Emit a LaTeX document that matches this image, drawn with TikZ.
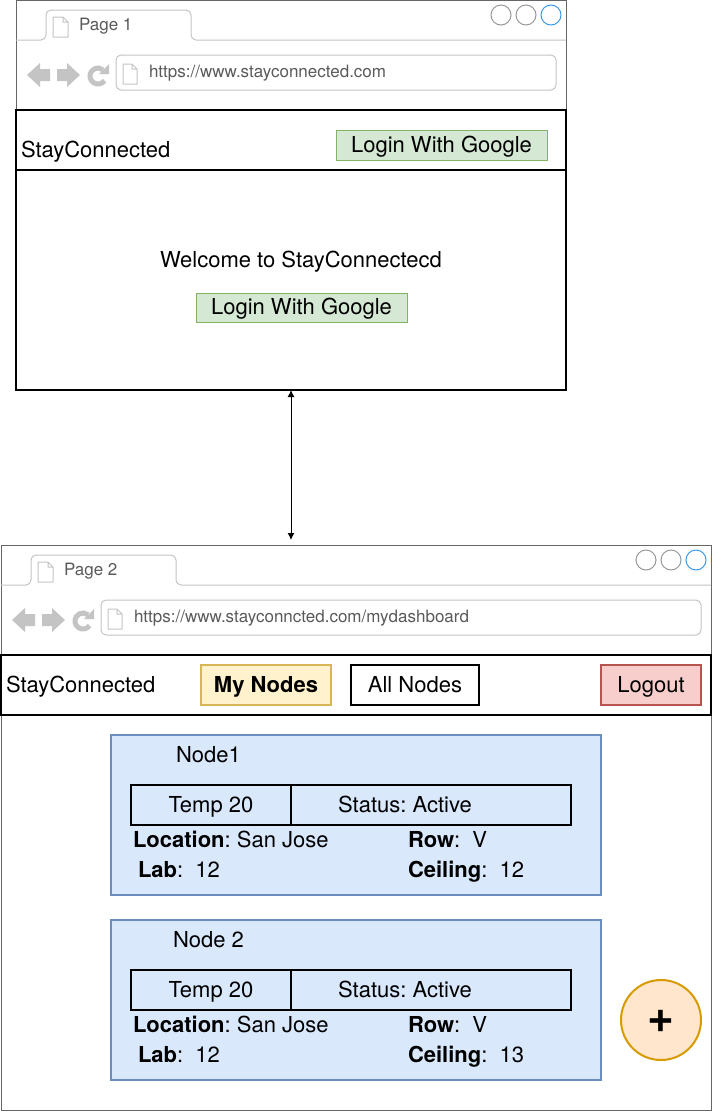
\documentclass[tikz,border=0pt]{standalone}
\usepackage{fontspec}
\setmainfont{TeX Gyre Heros}
\usetikzlibrary{arrows.meta}
\definecolor{greenF}{HTML}{D5E8D4}\definecolor{greenS}{HTML}{82B366}
\definecolor{blueF}{HTML}{DAE8FC}\definecolor{blueS}{HTML}{6C8EBF}
\definecolor{yelF}{HTML}{FFF2CC}\definecolor{yelS}{HTML}{D6B656}
\definecolor{redF}{HTML}{F8CECC}\definecolor{redS}{HTML}{B85450}
\definecolor{orF}{HTML}{FFE6CC}\definecolor{orS}{HTML}{D79B00}
\definecolor{frameC}{HTML}{666666}\definecolor{lineC}{HTML}{C4C4C4}\definecolor{iconC}{HTML}{C4C4C4}
\definecolor{txtC}{HTML}{5A5A5A}\definecolor{winB}{HTML}{3D9BEF}
\newcommand{\bigtxt}{\fontsize{22}{25}\selectfont}
\newcommand{\smalltxt}{\fontsize{17}{20}\selectfont}
\frenchspacing
\tikzset{
 every node/.style={outer sep=0pt},
 cell/.style={inner sep=0pt,anchor=north west,font=\bigtxt,text height=18pt,text depth=4pt},
 box/.style={cell,draw=black,line width=2pt,fill=white},
 thin box/.style={cell,draw=black,line width=2pt},
 txt/.style={inner sep=0pt,font=\bigtxt,text=black},
 btn/.style={cell,draw=greenS,fill=greenF,line width=1pt},
 flat/.style={cell,line width=2pt},
 card/.style={cell,draw=blueS,fill=blueF,line width=2pt},
 winc/.style={circle,minimum size=20pt,inner sep=0pt,line width=1pt,draw=#1},
 ftxt/.style={inner sep=0pt,font=\smalltxt,text=txtC},
 icon/.style={fill=iconC,draw=none},
 pageicon/.style={draw=lineC,fill=white,line width=1pt,line join=round},
}
\newcommand{\browser}[5]{% x0, y0, width, page, url
\begin{scope}[shift={(#1,#2)}]
 \draw[frameC,line width=1pt] (0,110) -- (0,0) -- (#3,0) -- (#3,110);
 \draw[lineC,line width=1pt,rounded corners=5pt] (0,40) -- (30,40) -- (30,10) -- (175,10) -- (175,40) -- (#3,40);
 \draw[pageicon] (37,17) -- (47,17) -- (52,22) -- (52,37) -- (37,37) -- cycle (47,17) -- (47,22) -- (52,22);
 \node[ftxt,anchor=base west] (pagelbl#1) at (63,30) {#4};
 \draw[lineC,line width=1pt,rounded corners=5pt] (100,55) rectangle (#3-10,90);
 \draw[pageicon] (107,64) -- (116,64) -- (121,69) -- (121,84) -- (107,84) -- cycle (116,64) -- (116,69) -- (121,69);
 \node[ftxt,anchor=base west] (urllbl#1) at (133,77) {#5};
 \fill[icon] (11,75) -- (24,63) -- (24,69) -- (34,69) -- (34,81) -- (24,81) -- (24,87) -- cycle;
 \fill[icon] (64,75) -- (51,63) -- (51,69) -- (41,69) -- (41,81) -- (51,81) -- (51,87) -- cycle;
 \draw[iconC,line width=5pt] (82,76) ++(35:8) arc[start angle=35,end angle=310,radius=8];
 \fill[icon] (93,64) -- (93,74) -- (83,74) -- cycle;
 \node[winc=gray!80] (ca#1) at (#3-65,15) {};
 \node[winc=gray!80] (cb#1) at (#3-40,15) {};
 \node[winc=winB] (cc#1) at (#3-15,15) {};
\end{scope}}
\begin{document}
\begin{tikzpicture}[x=1pt,y=-1pt]
\useasboundingbox[fill=white] (0,0) rectangle (712,1112);
% Page 1
\browser{16}{0}{550}{Page 1}{https://www.stayconnected.com}
\node[box,minimum width=550pt,minimum height=60pt] (bar1) at (16,110) {};
\node[box,minimum width=550pt,minimum height=220pt] (main1) at (16,170) {};
\node[txt,anchor=base west] (brand1) at (21,157) {StayConnected};
\node[btn,minimum width=211pt,minimum height=30pt] (login1) at (336,130) {Login With Google};
\node[txt,anchor=base] (welcome) at (301,267) {Welcome to StayConnectecd};
\node[btn,minimum width=211pt,minimum height=29pt] (login2) at (196,293) {Login With Google};
% Page 2
\draw[frameC,line width=1pt] (1,655) -- (1,1110) -- (711,1110) -- (711,655);
\browser{1}{545}{710}{Page 2}{https://www.stayconncted.com/mydashboard}
\coordinate (p2top) at (291,540);
\draw[black,line width=1pt,{Latex[length=7pt,width=7pt]}-{Latex[length=7pt,width=7pt]}] (main1.south -| p2top) -- (p2top);
\node[box,minimum width=710pt,minimum height=60pt] (bar2) at (1,655) {};
\node[txt,anchor=base west] (brand2) at (6,692) {StayConnected};
\node[flat,draw=yelS,fill=yelF,minimum width=130pt,minimum height=40pt,font=\bigtxt\bfseries] (mynodes) at (201,665) {My Nodes};
\node[box,minimum width=128pt,minimum height=40pt] (allnodes) at (351,665) {All Nodes};
\node[flat,draw=redS,fill=redF,minimum width=100pt,minimum height=40pt] (logout) at (601,665) {Logout};
% Cards
\node[card,minimum width=490pt,minimum height=160pt] (card1) at (111,735) {};
\node[txt,anchor=base west] (title1) at (176,762) {Node1};
\node[thin box,minimum width=160pt,minimum height=40pt] (temp1) at (131,785) {Temp 20};
\node[thin box,minimum width=280pt,minimum height=40pt] (status1) at (291,785) {Status: Active\hspace*{52pt}};
\node[txt,anchor=base west] (loc1) at (133,847) {\textbf{Location}: San Jose};
\node[txt,anchor=base west] (lab1) at (138,877) {\textbf{Lab}:\ \ 12};
\node[txt,anchor=base west] (row1) at (408,847) {\textbf{Row}:\ \ V};
\node[txt,anchor=base west] (ceil1) at (408,877) {\textbf{Ceiling}:\ \ 12};
\node[card,minimum width=490pt,minimum height=160pt] (card2) at (111,920) {};
\node[txt,anchor=base west] (title2) at (173,947) {Node 2};
\node[thin box,minimum width=160pt,minimum height=40pt] (temp2) at (131,970) {Temp 20};
\node[thin box,minimum width=280pt,minimum height=40pt] (status2) at (291,970) {Status: Active\hspace*{52pt}};
\node[txt,anchor=base west] (loc2) at (133,1032) {\textbf{Location}: San Jose};
\node[txt,anchor=base west] (lab2) at (138,1062) {\textbf{Lab}:\ \ 12};
\node[txt,anchor=base west] (row2) at (408,1032) {\textbf{Row}:\ \ V};
\node[txt,anchor=base west] (ceil2) at (408,1062) {\textbf{Ceiling}:\ \ 13};
\node[circle,draw=orS,fill=orF,line width=2pt,minimum size=80pt,inner sep=0pt] (add) at (661,1020) {};
\node[inner sep=0pt,anchor=base,font=\fontsize{46}{50}\selectfont\bfseries] (plus) at (660.5,1032) {+};
\end{tikzpicture}
\end{document}
